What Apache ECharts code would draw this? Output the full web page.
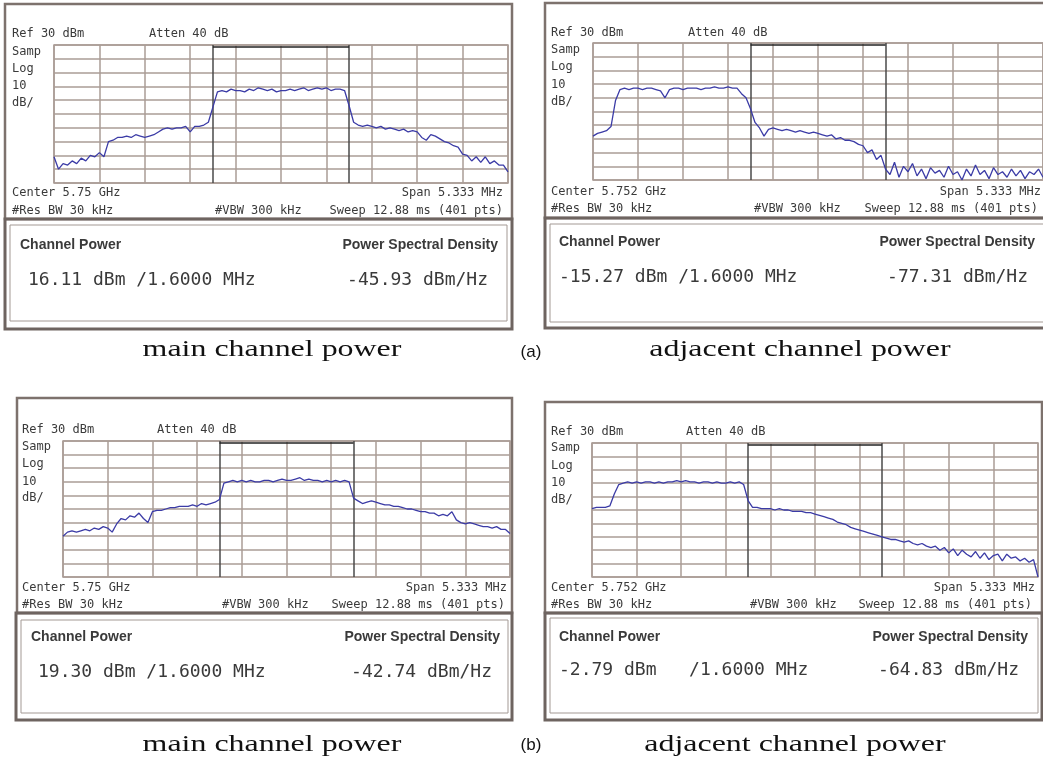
<!DOCTYPE html>
<html><head><meta charset="utf-8">
<script src="https://cdn.jsdelivr.net/npm/echarts@6/dist/echarts.min.js"></script>
<style>html,body{margin:0;padding:0;background:#fff}#c{width:1043px;height:760px}</style>
</head><body><div id="c"></div>
<script>
// ---- data: 101 samples per sweep (10 per division), values in dBm ----
const traceMainA = [-51,-60,-56,-57,-54,-56,-52,-54,-50,-51,-48,
 -51,-40,-39,-37,-37,-36,-37,-35,-36,-37,
 -36,-35,-33,-31,-30,-31,-30,-30,-29,-33,
 -29,-29,-28,-26,-15,
 -4,-3,-4,-2,-3,-3,-4,-2,-3,-1,-2,-3,-2,-4,-3,-3,-2,-3,-2,-1,-3,-2,-1,-2,-1,-3,-2,-2,-3,
 -14,
 -26,-28,-29,-28,-29,-30,-29,-31,-30,-31,
 -32,-31,-33,-32,-33,
 -37,-39,-35,-36,-38,
 -40,-41,-43,-44,-49,
 -50,-54,-51,-55,-51,-56,-54,-57,-57,-62];
const traceAdjA = [-38,-36,-35,-34,-31,
 -12,
 -4,-3,-4,-3,-3,-4,-3,-3,-4,-5,-10,-4,-3,-3,-4,-3,-3,-3,-4,-3,-3,-2,-3,-3,-2,-3,
 -3,-7,-10,-18,
 -28,-32,-38,-33,-32,
 -33,-34,-33,-34,-35,-34,-35,-36,-35,-36,
 -37,-38,-37,-40,-39,
 -41,-41,-42,-44,-45,
 -50,-48,-55,-52,
 -62,-66,-57,-68,-60,-64,-58,-67,-62,-69,-61,-65,-63,-68,-60,-66,-64,-70,-62,-67,-59,-66,-63,-69,-61,-66,-64,-68,-62,-67,-63,-69,-64,-66,-62,-68];
const traceMainB = [-40,
 -37,-36,-37,-36,-35,-36,-34,-35,-33,
 -34,-37,-31,-27,-28,-25,-26,-23,-27,-30,-22,
 -21,-21,-20,-19,-19,-18,-18,-18,-17,-18,-16,-17,-16,-15,-13,
 -1,0,1,0,1,0,1,0,0,1,1,0,1,2,1,1,2,3,1,2,1,1,0,1,0,1,0,1,0,
 -12,
 -14,-16,-15,-14,-15,-16,-17,-17,-18,-18,
 -19,-20,-20,-21,-22,-22,-23,-23,-25,-24,
 -25,-22,-28,-30,-31,
 -30,-31,-32,-33,-33,-34,-33,-35,-35,-38];
const traceAdjB = [-19,-18,-18,-18,-17,
 -8,
 -1,0,1,0,1,0,1,1,0,1,0,1,1,2,1,2,1,1,0,1,1,0,1,0,0,1,0,1,-1,
 -13,
 -18,-18,-19,-19,-19,-20,-19,-20,-20,-21,-21,-21,-22,-22,-23,
 -24,-25,-26,-27,-29,-30,-31,-33,-34,-35,
 -36,-37,-38,-39,-40,-41,-42,-42,
 -43,-44,-43,-45,-46,-45,-47,-48,-47,-50,-48,-52,
 -49,-54,-50,-53,-55,-51,-56,-52,-57,-54,-53,-58,-53,-56,-55,-58,-56,-59,-57,-70];
const traces = [traceMainA, traceAdjA, traceMainB, traceAdjB];
const channelEdges = [35, 65];          // sample index of integration channel edges
const refLevel = 30, bottomLevel = -70, dbPerDiv = 10;
const headerLabels = ['Ref 30 dBm', 'Atten 40 dB'];
const scaleLabels = ['Samp', 'Log', '10', 'dB/'];
const centerLabels = ['Center 5.75 GHz', 'Center 5.752 GHz', 'Center 5.75 GHz', 'Center 5.752 GHz'];
const spanLabel = 'Span 5.333 MHz';
const resBwLabel = '#Res BW 30 kHz';
const vbwLabel = '#VBW 300 kHz';
const sweepLabel = 'Sweep 12.88 ms (401 pts)';
const channelPowerTitle = 'Channel Power';
const psdTitle = 'Power Spectral Density';
const channelPowers = ['16.11 dBm /1.6000 MHz', '-15.27 dBm /1.6000 MHz', '19.30 dBm /1.6000 MHz', '-2.79 dBm   /1.6000 MHz'];
const psdValues = ['-45.93 dBm/Hz', '-77.31 dBm/Hz', '-42.74 dBm/Hz', '-64.83 dBm/Hz'];
const captions = ['main channel power', 'adjacent channel power', 'main channel power', 'adjacent channel power'];
const partLabels = ['(a)', '(b)'];

// ---- layout ----
const P = [
 {frame:[5,4,507,215], grid:[54,45,454,138], ro:[5,219,507,110], roIn:[10,225,497,96], tx:12, ty:[34,52,69,86,103], atten:149, rowY:[193,211], spanR:503, vbw:215, sweepR:503, hdrY:245, hx:20, psdR:498, valY:280, vx:28, valR:488, capX:272, capY:350},
 {frame:[545,3,505,215], grid:[593,43,455,137], ro:[545,218,505,110], roIn:[550,224,500,98], tx:551, ty:[33,50,67,85,102], atten:688, rowY:[192,209], spanR:1041, vbw:754, sweepR:1038, hdrY:242, hx:559, psdR:1035, valY:277, vx:559, valR:1028, capX:800, capY:350},
 {frame:[17,398,495,215], grid:[63,441,447,136], ro:[16,613,496,107], roIn:[21,620,487,93], tx:22, ty:[430,447,464,482,498], atten:157, rowY:[588,605], spanR:507, vbw:222, sweepR:505, hdrY:637, hx:31, psdR:500, valY:672, vx:38, valR:492, capX:272, capY:745},
 {frame:[545,402,497,211], grid:[592,443,446,134], ro:[545,613,497,107], roIn:[550,618,488,95], tx:551, ty:[432,448,466,483,500], atten:686, rowY:[588,605], spanR:1035, vbw:750, sweepR:1032, hdrY:637, hx:559, psdR:1028, valY:670, vx:559, valR:1019, capX:795, capY:745}
];
const partPos = [[531,352],[531,745]];

const MONO = '"DejaVu Sans Mono","Liberation Mono",monospace';
const gridColor = '#aa9c96';
const txtColor = '#3a3a3a';

function T(text, x, y, font, align, extra) {
  return Object.assign({type:'text', silent:true, x:x, y:y, style:{text:text, font:font, fill:txtColor,
    textAlign:align||'left', align:align||'left', textVerticalAlign:'middle', verticalAlign:'middle'}}, extra||{});
}
function R(b, stroke, lw) {
  return {type:'rect', silent:true, shape:{x:b[0], y:b[1], width:b[2], height:b[3]}, style:{fill:'none', stroke:stroke, lineWidth:lw}};
}

const grids = [], xAxes = [], yAxes = [], series = [], graphics = [];
P.forEach((p, i) => {
  grids.push({left:p.grid[0], top:p.grid[1], width:p.grid[2], height:p.grid[3], show:true, borderColor:gridColor, borderWidth:1.5, backgroundColor:'#fff'});
  xAxes.push({type:'value', gridIndex:i, min:0, max:100, interval:10, axisLabel:{show:false}, axisTick:{show:false}, axisLine:{show:false},
    splitLine:{show:true, lineStyle:{color:gridColor, width:1.5}}});
  yAxes.push({type:'value', gridIndex:i, min:bottomLevel, max:refLevel, interval:dbPerDiv, axisLabel:{show:false}, axisTick:{show:false}, axisLine:{show:false},
    splitLine:{show:true, lineStyle:{color:gridColor, width:1.5}}});
  series.push({type:'line', xAxisIndex:i, yAxisIndex:i, data:traces[i].map((v, k) => [k, v]), showSymbol:false, symbol:'none',
    lineStyle:{color:'#3b3ba6', width:1.3}, animation:false, z:5,
    markLine:{silent:true, symbol:['none','none'], label:{show:false}, animation:false,
      lineStyle:{color:'#4a4a4a', width:1.5, type:'solid'},
      data:[{xAxis:channelEdges[0]}, {xAxis:channelEdges[1]},
        [{coord:[channelEdges[0], refLevel-1.2], lineStyle:{color:'#222', width:1.5}}, {coord:[channelEdges[1], refLevel-1.2]}]]}});
  // frames
  graphics.push(R(p.frame, '#7d726d', 2.5));
  graphics.push(R(p.ro, '#6e6460', 3));
  graphics.push(R(p.roIn, '#a39994', 1));
  // instrument annotations
  const f12 = '12px ' + MONO;
  graphics.push(T(headerLabels[0], p.tx, p.ty[0], f12));
  graphics.push(T(headerLabels[1], p.atten, p.ty[0], f12));
  scaleLabels.forEach((s, k) => graphics.push(T(s, p.tx, p.ty[k+1], f12)));
  graphics.push(T(centerLabels[i], p.tx, p.rowY[0], f12));
  graphics.push(T(spanLabel, p.spanR, p.rowY[0], f12, 'right'));
  graphics.push(T(resBwLabel, p.tx, p.rowY[1], f12));
  graphics.push(T(vbwLabel, p.vbw, p.rowY[1], f12));
  graphics.push(T(sweepLabel, p.sweepR, p.rowY[1], f12, 'right'));
  // readout
  const fh = 'bold 14px "Liberation Sans","Noto Sans",sans-serif';
  graphics.push(T(channelPowerTitle, p.hx, p.hdrY, fh));
  graphics.push(T(psdTitle, p.psdR, p.hdrY, fh, 'right'));
  const fv = '18px ' + MONO;
  graphics.push(T(channelPowers[i], p.vx, p.valY, fv));
  graphics.push(T(psdValues[i], p.valR, p.valY, fv, 'right'));
  // caption
  graphics.push(T(captions[i], p.capX, p.capY, '24px "Liberation Serif","DejaVu Serif",serif', 'center', {scaleX:1.33, style:{text:captions[i], font:'24px "Liberation Serif",serif', fill:'#111', textAlign:'center', align:'center', textVerticalAlign:'middle', verticalAlign:'middle'}}));
});
partLabels.forEach((s, k) => graphics.push(T(s, partPos[k][0], partPos[k][1], '17px "Liberation Sans",Arial,sans-serif', 'center', {style:{text:s, font:'17px "Liberation Sans",sans-serif', fill:'#111', textAlign:'center', align:'center', textVerticalAlign:'middle', verticalAlign:'middle'}})));

const chart = echarts.init(document.getElementById('c'), null, {renderer:'canvas'});
chart.setOption({backgroundColor:'#fff', animation:false, grid:grids, xAxis:xAxes, yAxis:yAxes, series:series, graphic:{elements:graphics}});
</script></body></html>
